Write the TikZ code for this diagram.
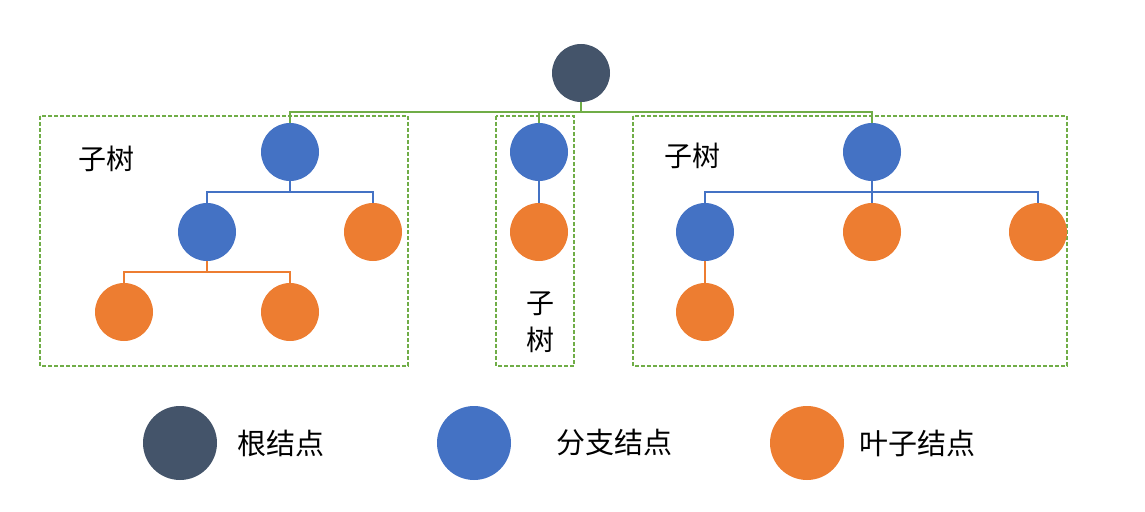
\documentclass[tikz,border=0pt]{standalone}
\usepackage{fontspec}
\newfontfamily\cjk{Noto Sans CJK SC}
\usetikzlibrary{positioning}
\definecolor{rootc}{HTML}{44546A}
\definecolor{branchc}{HTML}{4472C4}
\definecolor{leafc}{HTML}{ED7D31}
\definecolor{treec}{HTML}{70AD47}
\tikzstyle{rcell} = [circle, fill=rootc, minimum size=58pt, inner sep=0pt]
\tikzstyle{bcell} = [circle, fill=branchc, minimum size=58pt, inner sep=0pt]
\tikzstyle{lcell} = [circle, fill=leafc, minimum size=58pt, inner sep=0pt]
\tikzstyle{gline} = [draw=treec, line width=2pt]
\tikzstyle{bline} = [draw=branchc, line width=2pt]
\tikzstyle{oline} = [draw=leafc, line width=2pt]
\tikzstyle{subbox} = [draw=treec, line width=1.5pt, dash pattern=on 4pt off 2pt]
\tikzstyle{label} = [font=\cjk\fontsize{28}{37}\selectfont, inner sep=0pt, align=center]
\tikzstyle{key} = [font=\cjk\fontsize{29}{35}\selectfont, inner sep=0pt]

\begin{document}
\begin{tikzpicture}[x=1pt, y=-1pt, node distance=80pt and 83pt, on grid]
    \useasboundingbox (0,0) rectangle (1145,511);

    % subtree frames
    \path[subbox] (40,116) rectangle (408,366);
    \path[subbox] (496,116) rectangle (574,366);
    \path[subbox] (633,116) rectangle (1067,366);

    \node[rcell] (root) at (581,73) {};

    % left subtree
    \node[bcell] (lroot) at (290,152) {};
    \node[bcell, below left=of lroot] (lb) {};
    \node[lcell, below right=of lroot] (ll) {};
    \node[lcell, below left=of lb] (lbl) {};
    \node[lcell, below right=of lb] (lbr) {};
    \node[label] (ltext) at (106,159) {子树};

    % middle subtree
    \node[bcell] (mroot) at (539,152) {};
    \node[lcell, below=of mroot] (ml) {};
    \node[label] (mtext) at (540,322) {子\\树};

    % right subtree
    \node[bcell] (rroot) at (872,152) {};
    \node[bcell, below left=80pt and 167pt of rroot] (rb) {};
    \node[lcell, below=of rroot] (rm) {};
    \node[lcell, below right=80pt and 166pt of rroot] (rr) {};
    \node[lcell, below=of rb] (rbl) {};
    \node[label] (rtext) at (692,156) {子树};

    % connectors
    \path[gline] (root.south) -- ++(0,10) coordinate (gj);
    \path[gline] (gj) -| (lroot.north);
    \path[gline] (gj) -| (mroot.north);
    \path[gline] (gj) -| (rroot.north);

    \path[bline] (lroot.south) -- ++(0,11) coordinate (lj);
    \path[bline] (lj) -| (lb.north);
    \path[bline] (lj) -| (ll.north);
    \path[oline] (lb.south) -- ++(0,11) coordinate (lbj);
    \path[oline] (lbj) -| (lbl.north);
    \path[oline] (lbj) -| (lbr.north);

    \path[bline] (mroot) -- (ml);

    \path[bline] (rroot.south) -- ++(0,11) coordinate (rj);
    \path[bline] (rj) -| (rb.north);
    \path[bline] (rj) -- (rm.north);
    \path[bline] (rj) -| (rr.north);
    \path[oline] (rb) -- (rbl);

    % legend
    \node[rcell, minimum size=74pt] (krt) at (180,443) {};
    \node[key, anchor=west] (krtext) at (237,443) {根结点};
    \node[bcell, minimum size=74pt] (kbr) at (474,443) {};
    \node[key, anchor=west] (kbrtext) at (556,443) {分支结点};
    \node[lcell, minimum size=74pt] (klf) at (807,443) {};
    \node[key, anchor=west] (klftext) at (859,443) {叶子结点};
\end{tikzpicture}
\end{document}
